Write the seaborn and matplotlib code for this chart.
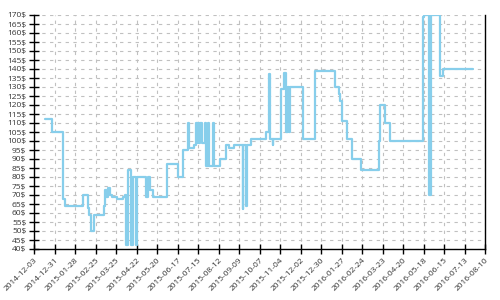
import matplotlib
matplotlib.use("Agg")
import matplotlib.pyplot as plt
import matplotlib.dates as mdates
import matplotlib.ticker as mticker
import seaborn as sns
import pandas as pd

dates = [
    "2014-12-18", "2014-12-28", "2015-01-12", "2015-01-14", "2015-02-08",
    "2015-02-15", "2015-02-16", "2015-02-19", "2015-02-23", "2015-03-09",
    "2015-03-10", "2015-03-11", "2015-03-14", "2015-03-17", "2015-03-20",
    "2015-03-26", "2015-04-03", "2015-04-06", "2015-04-08", "2015-04-11",
    "2015-04-14", "2015-04-17", "2015-04-21", "2015-04-22", "2015-05-05",
    "2015-05-08", "2015-05-10", "2015-05-15", "2015-06-02", "2015-06-18",
    "2015-06-25", "2015-07-02", "2015-07-03", "2015-07-09", "2015-07-12",
    "2015-07-13", "2015-07-14", "2015-07-15", "2015-07-16", "2015-07-17",
    "2015-07-18", "2015-07-20", "2015-07-25", "2015-07-26", "2015-07-28",
    "2015-07-30", "2015-08-05", "2015-08-06", "2015-08-14", "2015-08-22",
    "2015-08-26", "2015-09-02", "2015-09-14", "2015-09-15", "2015-09-19",
    "2015-09-20", "2015-09-26", "2015-10-16", "2015-10-20", "2015-10-21",
    "2015-10-25", "2015-10-26", "2015-11-06", "2015-11-09", "2015-11-12",
    "2015-11-13", "2015-11-14", "2015-11-15", "2015-11-16", "2015-11-17",
    "2015-12-05", "2015-12-22", "2016-01-18", "2016-01-23", "2016-01-25",
    "2016-01-27", "2016-02-03", "2016-02-11", "2016-02-22", "2016-03-18",
    "2016-03-20", "2016-03-27", "2016-04-02", "2016-05-17", "2016-05-19",
    "2016-05-25", "2016-05-28", "2016-06-09", "2016-06-13", "2016-07-25",
]
prices = [
    112, 105, 68, 64, 70,
    63, 59, 50, 59, 64,
    73, 69, 74, 70, 69,
    68, 69, 70, 42, 84,
    42, 80, 42, 80, 69,
    80, 73, 69, 87, 80,
    95, 110, 96, 98, 110,
    99, 110, 99, 110, 99,
    110, 99, 110, 86, 110,
    86, 110, 86, 90, 98,
    96, 98, 62, 98, 64,
    98, 101, 105, 137, 101,
    98, 101, 129, 138, 105,
    130, 105, 130, 105, 130,
    101, 139, 130, 126, 122,
    111, 101, 90, 84, 100,
    120, 110, 100, 169, 170,
    70, 170, 136, 140, 140,
]
x_start = "2014-12-03"
x_end = "2016-08-10"
y_ticks = list(range(40, 171, 5))

df = pd.DataFrame({"date": pd.to_datetime(dates), "price": prices})

sns.set_style("ticks")
plt.rcParams["font.family"] = ["Open Sans", "DejaVu Sans"]

fig = plt.figure(figsize=(5, 3), dpi=100)
ax = fig.add_axes([0.068, 0.17, 0.902, 0.78])

ax.grid(True, color="#c0c0c0", linestyle=(0, (3, 4)), linewidth=0.8)
ax.set_axisbelow(True)

sns.lineplot(data=df, x="date", y="price", ax=ax, color="#87CEEB",
             linewidth=1.6, drawstyle="steps-post", estimator=None)

ax.set_xlim(pd.Timestamp(x_start), pd.Timestamp(x_end))
ax.set_ylim(40, 170)
xt = pd.date_range(x_start, x_end, freq="28D")
ax.set_xticks(xt)
ax.xaxis.set_major_formatter(mdates.DateFormatter("%Y-%m-%d"))
ax.set_yticks(y_ticks)
ax.yaxis.set_major_formatter(mticker.FuncFormatter(lambda v, p: f"{int(v)}$"))
plt.setp(ax.get_xticklabels(), rotation=45, ha="right", rotation_mode="anchor")
ax.tick_params(axis="both", direction="inout", length=7, width=1, labelsize=6,
               color="black", labelcolor="#333333", pad=2)
ax.set_xlabel("")
ax.set_ylabel("")
for s in ["left", "bottom", "right"]:
    ax.spines[s].set_color("black")
    ax.spines[s].set_linewidth(1)
ax.spines["top"].set_visible(False)

fig.savefig("out.png", dpi=100)
